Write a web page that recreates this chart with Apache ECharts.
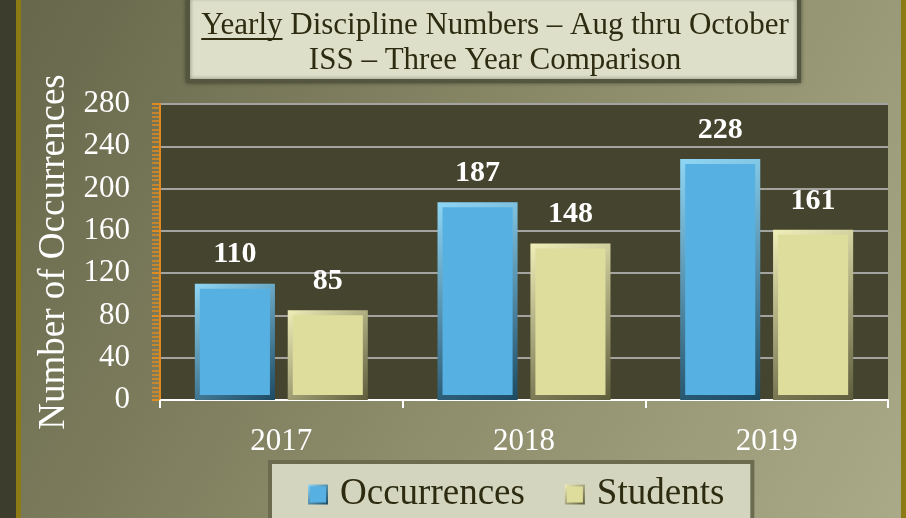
<!DOCTYPE html>
<html>
<head>
<meta charset="utf-8">
<script src="https://cdn.jsdelivr.net/npm/echarts@6/dist/echarts.min.js"></script>
<style>
html,body{margin:0;padding:0;}
#chart{width:906px;height:518px;}
</style>
</head>
<body>
<div id="chart"></div>
<script>
(function(){
	var years = ['2017', '2018', '2019'];
	var occurrences = [110, 187, 228];
	var students = [85, 148, 161];
	var yTicks = [0, 40, 80, 120, 160, 200, 240, 280];

	var serif = '"Liberation Serif", "DejaVu Serif", serif';
	var titleFont = '31px ' + serif;
	var line1 = 'Yearly Discipline Numbers – Aug thru October';
	var titleX = 495;

	// measure text so the underline sits under "Yearly"
	var ctx = document.createElement('canvas').getContext('2d');
	ctx.font = titleFont;
	var fullW = ctx.measureText(line1).width;
	var wordW = ctx.measureText('Yearly').width;
	var ulStart = titleX - fullW / 2;

	var chart = echarts.init(document.getElementById('chart'));

	function bevel(light, dark){
		return new echarts.graphic.LinearGradient(0, 0, 1, 1, [
			{offset: 0, color: light},
			{offset: 1, color: dark}
		]);
	}

	var option = {
		backgroundColor: new echarts.graphic.LinearGradient(0, 0, 1, 1, [
			{offset: 0, color: '#65664a'},
			{offset: 0.55, color: '#8d8d6b'},
			{offset: 1, color: '#aaaa88'}
		]),
		graphic: [
			{type: 'rect', shape: {x: 0, y: 0, width: 16, height: 518}, style: {fill: '#3c3d2c'}, silent: true},
			{type: 'rect', shape: {x: 16, y: 0, width: 5, height: 518}, style: {fill: '#8c7a14'}, silent: true},
			{type: 'rect', shape: {x: 901, y: 0, width: 5, height: 518}, style: {fill: '#8c7a14'}, silent: true},
			{
				type: 'rect',
				shape: {x: 188, y: -4, width: 611, height: 85},
				style: {fill: '#dddfc9', stroke: '#55563f', lineWidth: 4, shadowBlur: 4, shadowColor: 'rgba(0,0,0,0.4)'},
				silent: true
			},
			{
				type: 'text', x: titleX, y: 26,
				style: {text: line1, font: titleFont, fill: '#2d2b10', align: 'center', verticalAlign: 'middle'},
				silent: true
			},
			{
				type: 'text', x: titleX, y: 61,
				style: {text: 'ISS – Three Year Comparison', font: titleFont, fill: '#2d2b10', align: 'center', verticalAlign: 'middle'},
				silent: true
			},
			{
				type: 'line', shape: {x1: ulStart, y1: 39, x2: ulStart + wordW, y2: 39},
				style: {stroke: '#2d2b10', lineWidth: 2}, silent: true
			}
		],
		legend: {
			left: 270,
			top: 462,
			padding: [14, 28, 40, 38],
			itemGap: 40,
			itemWidth: 18,
			itemHeight: 18,
			icon: 'rect',
			backgroundColor: '#d4d5bf',
			borderColor: '#6a6b4f',
			borderWidth: 4,
			textStyle: {fontFamily: serif, fontSize: 37, color: '#2d2b10', padding: [0, 0, 0, 8]},
			data: ['Occurrences', 'Students']
		},
		grid: {
			left: 160,
			right: 18,
			top: 104,
			bottom: 118,
			show: true,
			backgroundColor: '#45452f',
			borderWidth: 0
		},
		xAxis: {
			type: 'category',
			data: years,
			axisLine: {lineStyle: {color: '#ffffff', width: 2}},
			axisTick: {show: true, length: 8, lineStyle: {color: '#ffffff', width: 2}},
			axisLabel: {color: '#ffffff', fontFamily: serif, fontSize: 31, margin: 26}
		},
		yAxis: {
			type: 'value',
			min: yTicks[0],
			max: yTicks[yTicks.length - 1],
			interval: 40,
			name: 'Number of Occurrences',
			nameLocation: 'middle',
			nameGap: 86,
			nameTextStyle: {color: '#ffffff', fontFamily: serif, fontSize: 37},
			axisLine: {show: true, lineStyle: {color: '#e08a20', width: 2}},
			axisTick: {show: true, length: 8, lineStyle: {color: '#e08a20', width: 2}},
			minorTick: {show: true, splitNumber: 10, length: 8, lineStyle: {color: '#e08a20', width: 1.5}},
			axisLabel: {color: '#ffffff', fontFamily: serif, fontSize: 31, margin: 30},
			splitLine: {lineStyle: {color: '#a3a3a0', width: 2}}
		},
		series: [
			{
				name: 'Occurrences',
				type: 'bar',
				data: occurrences,
				barWidth: '33%',
				barGap: '16%',
				itemStyle: {
					color: '#56b1e2',
					borderColor: bevel('#8fd6f5', '#1d4a63'),
					borderWidth: 5
				},
				label: {show: true, position: 'top', distance: 14, color: '#ffffff', fontFamily: serif, fontSize: 30, fontWeight: 'bold'}
			},
			{
				name: 'Students',
				type: 'bar',
				data: students,
				barWidth: '33%',
				itemStyle: {
					color: '#dfdd9c',
					borderColor: bevel('#f0eeb8', '#5d5c3c'),
					borderWidth: 5
				},
				label: {show: true, position: 'top', distance: 14, color: '#ffffff', fontFamily: serif, fontSize: 30, fontWeight: 'bold'}
			}
		]
	};

	chart.setOption(option);
})();
</script>
</body>
</html>
